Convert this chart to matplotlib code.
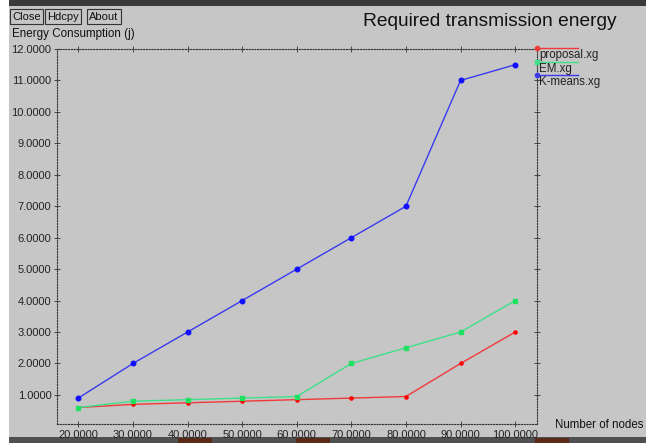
import matplotlib
matplotlib.use('Agg')
import matplotlib.pyplot as plt
from matplotlib.lines import Line2D
from matplotlib.patches import Rectangle

plt.rcParams['font.family'] = ['Liberation Sans', 'DejaVu Sans']

nodes = [20, 30, 40, 50, 60, 70, 80, 90, 100]
proposal = [0.6, 0.7, 0.75, 0.8, 0.85, 0.9, 0.95, 2.0, 3.0]
em = [0.6, 0.8, 0.85, 0.9, 0.95, 2.0, 2.5, 3.0, 4.0]
kmeans = [0.9, 2.0, 3.0, 4.0, 5.0, 6.0, 7.0, 11.0, 11.5]
series_names = ['proposal.xg', 'EM.xg', 'K-means.xg']
colors = ['#f03a3a', '#3ee08a', '#3a3af0']
yticks = [1, 2, 3, 4, 5, 6, 7, 8, 9, 10, 11, 12]

bg = '#c6c6c6'
fig = plt.figure(figsize=(6.46, 4.43), dpi=100)
fig.patch.set_facecolor('white')
# window background
fig.add_artist(Rectangle((9 / 646, 0), 1, 1, transform=fig.transFigure,
                         facecolor=bg, edgecolor='none', zorder=-10))
fig.add_artist(Rectangle((9 / 646, 1 - 6 / 443), 1, 6 / 443, transform=fig.transFigure,
                         facecolor='#3a3a3a', edgecolor='none', zorder=-9))
fig.add_artist(Rectangle((9 / 646, 0), 1, 6 / 443, transform=fig.transFigure,
                         facecolor='#505050', edgecolor='none', zorder=-9))
for x0, w in [(178, 34), (296, 34), (535, 34)]:
    fig.add_artist(Rectangle((x0 / 646, 0), w / 646, 5 / 443, transform=fig.transFigure,
                             facecolor='#5a2a18', edgecolor='none', zorder=-8))

ax = fig.add_axes([57 / 646, 1 - 424 / 443, 480 / 646, 375 / 443])
ax.set_facecolor(bg)

for vals, c in zip([proposal, em, kmeans], colors):
    ax.plot(nodes, vals, color=c, lw=1.0)
ax.plot(nodes, proposal, ls='none', marker='o', ms=2.3, color='#ff0000')
ax.plot(nodes, em, ls='none', marker='s', ms=3.3, color='#20e060')
ax.plot(nodes, kmeans, ls='none', marker='o', ms=3.3, color='#1010ff')

ax.set_xlim(16.1, 104.0)
ax.set_ylim(0.076, 12.0)
ax.set_xticks(nodes)
ax.set_xticklabels(['%.4f' % v for v in nodes])
ax.set_yticks(yticks)
ax.set_yticklabels(['%.4f' % v for v in yticks])
ax.tick_params(direction='inout', length=4, width=0.6, colors='#333333',
               labelcolor='#222222', labelsize=8, top=True, right=True, pad=2)
for s in ax.spines.values():
    s.set_linestyle((0, (1, 1.5)))
    s.set_linewidth(0.8)
    s.set_color('#333333')

# legend at right of plot
for i, (name, c) in enumerate(zip(series_names, colors)):
    yy = 1 - (48 + 13.5 * i) / 443
    fig.add_artist(Line2D([537 / 646, 578 / 646], [yy, yy], transform=fig.transFigure,
                          color=c, lw=1.0))
    fig.add_artist(Line2D([537 / 646], [yy], transform=fig.transFigure,
                          color=c, marker='o' if i != 1 else 's', ms=3))
    fig.text(539 / 646, yy - 1.5 / 443, name, fontsize=8.3, va='top', ha='left',
             color='#222222')

fig.text(490 / 646, 1 - 21 / 443, 'Required transmission energy', fontsize=13.8,
         ha='center', va='center', color='#111111')
fig.text(12 / 646, 1 - 34 / 443, 'Energy Consumption (j)', fontsize=8.4,
         ha='left', va='center', color='#111111')
fig.text(555 / 646, 1 - 425 / 443, 'Number of nodes n', fontsize=8.3,
         ha='left', va='center', color='#111111')

for label, x in [('Close', 12), ('Hdcpy', 47), ('About', 89)]:
    fig.text(x / 646, 1 - 16.5 / 443, label, fontsize=8, ha='left', va='center',
             color='#111111',
             bbox=dict(boxstyle='square,pad=0.22', facecolor=bg, edgecolor='#333333', lw=0.8))

fig.savefig('out.png', dpi=100, facecolor=fig.get_facecolor())
